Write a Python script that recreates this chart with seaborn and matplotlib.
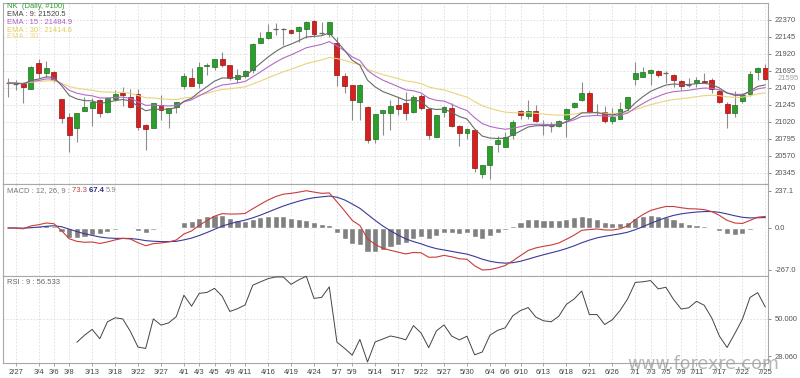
import numpy as np
import pandas as pd
import matplotlib
matplotlib.use("Agg")
import matplotlib.pyplot as plt
import seaborn as sns

# NK daily candles, 100 bars
opens = [21536, 21523, 21536, 21456, 21801, 21668, 21681, 21324, 21086, 20940,
         21165, 21205, 21311, 21152, 21324, 21403, 21351, 21390, 20980, 20940,
         21245, 21139, 21218, 21496, 21602, 21536, 21755, 21748, 21854, 21774,
         21589, 21629, 21708, 22065, 22132, 22251, 22251, 22238, 22224, 22251,
         22357, 22198, 22185, 22065, 21629, 21509, 21284, 21218, 20795, 21139,
         21139, 21245, 21271, 21152, 21364, 21192, 20821, 21152, 21205, 20967,
         20874, 20914, 20331, 20450, 20728, 20689, 20847, 21165, 21099, 21165,
         20980, 20967, 20967, 21059, 21218, 21311, 21403, 21152, 21152, 21033,
         21059, 21205, 21589, 21615, 21668, 21695, 21668, 21642, 21562, 21509,
         21536, 21569, 21576, 21430, 21258, 21139, 21298, 21390, 21681, 21734]
highs = [21602, 21576, 21545, 21760, 21854, 21827, 21690, 21330, 21139, 21145,
         21351, 21337, 21320, 21345, 21443, 21483, 21456, 21456, 20990, 21275,
         21377, 21210, 21290, 21668, 21734, 21814, 21801, 21860, 21946, 21780,
         21721, 21705, 22065, 22211, 22317, 22330, 22264, 22245, 22285, 22357,
         22365, 22344, 22350, 22145, 21668, 21515, 21523, 21231, 21130, 21180,
         21311, 21351, 21417, 21377, 21390, 21200, 21115, 21231, 21271, 20975,
         20935, 20920, 20455, 20705, 20834, 20887, 21046, 21178, 21311, 21245,
         21046, 21020, 21046, 21205, 21280, 21549, 21430, 21258, 21231, 21205,
         21284, 21355, 21814, 21748, 21721, 21705, 21695, 21655, 21575, 21602,
         21615, 21668, 21602, 21456, 21284, 21430, 21403, 21695, 21748, 21787]
lows = [21351, 21443, 21271, 21456, 21602, 21615, 21549, 21006, 20622, 20755,
        21160, 20967, 21086, 21139, 21298, 21231, 21210, 20914, 20649, 20935,
        21046, 20940, 21139, 21456, 21490, 21470, 21641, 21708, 21748, 21576,
        21536, 21600, 21668, 22060, 22125, 22171, 22039, 22185, 22079, 22132,
        22145, 22171, 22140, 21496, 21403, 21046, 21046, 20742, 20742, 20847,
        20914, 21112, 21046, 21139, 21178, 20795, 20815, 21086, 20960, 20702,
        20795, 20358, 20278, 20265, 20622, 20685, 20795, 21059, 21059, 21025,
        20847, 20887, 20955, 20821, 21205, 21300, 21140, 21112, 21006, 20993,
        21055, 21165, 21509, 21610, 21509, 21620, 21536, 21483, 21443, 21483,
        21483, 21536, 21403, 21271, 20940, 21086, 21271, 21364, 21576, 21576]
closes = [21536, 21523, 21483, 21748, 21668, 21734, 21576, 21072, 20847, 21139,
          21218, 21284, 21139, 21337, 21390, 21377, 21218, 20953, 20927, 21271,
          21178, 21205, 21284, 21629, 21496, 21748, 21768, 21854, 21774, 21602,
          21642, 21695, 22052, 22132, 22211, 22251, 22251, 22198, 22277, 22344,
          22185, 22198, 22344, 21642, 21496, 21311, 21509, 20781, 21125, 21178,
          21231, 21192, 21139, 21351, 21205, 20847, 21112, 21218, 20967, 20874,
          20927, 20410, 20450, 20702, 20781, 20821, 21020, 21112, 21165, 21033,
          20980, 20967, 21033, 21192, 21271, 21403, 21152, 21152, 21033, 21086,
          21192, 21351, 21668, 21681, 21708, 21642, 21668, 21576, 21496, 21509,
          21576, 21549, 21456, 21284, 21139, 21245, 21377, 21655, 21734, 21595]

holidays = ["2019-03-21", "2019-04-29", "2019-04-30", "2019-05-01", "2019-05-02",
            "2019-05-03", "2019-05-06", "2019-07-15"]
tick_labels = ["2/27", "3/4", "3/6", "3/8", "3/13", "3/18", "3/22", "3/27", "4/1",
               "4/3", "4/5", "4/9", "4/11", "4/16", "4/19", "4/24", "5/7", "5/9",
               "5/14", "5/17", "5/22", "5/27", "5/30", "6/4", "6/6", "6/10", "6/13",
               "6/18", "6/21", "6/26", "7/1", "7/3", "7/5", "7/9", "7/11", "7/17",
               "7/22", "7/25"]
price_ticks = [20345, 20570, 20795, 21020, 21245, 21470, 21695, 21920, 22145, 22370]
macd_ticks = [-267.0, 0.0, 237.1]
rsi_ticks = [28.06, 50.0]
last_price = 21595
ema_values = [21520.5, 21484.9, 21414.6]
macd_values = [73.3, 67.4, 5.9]
rsi_value = 56.533

days = pd.bdate_range("2019-02-26", "2019-07-25")
days = days[~days.isin(pd.to_datetime(holidays))]
day_labels = [f"{d.month}/{d.day}" for d in days]
tick_pos = [day_labels.index(t) for t in tick_labels]

df = pd.DataFrame({"i": np.arange(len(closes)), "open": opens, "high": highs,
                   "low": lows, "close": closes})
c = df["close"]
df["ema9"] = c.ewm(span=9, adjust=False).mean()
df["ema15"] = c.ewm(span=15, adjust=False).mean()
df["ema30"] = c.ewm(span=30, adjust=False).mean()
df["macd"] = c.ewm(span=12, adjust=False).mean() - c.ewm(span=26, adjust=False).mean()
df["signal"] = df["macd"].ewm(span=9, adjust=False).mean()
df["hist"] = df["macd"] - df["signal"]
delta = c.diff()
gain = delta.clip(lower=0).ewm(alpha=1 / 9, adjust=False, min_periods=9).mean()
loss = (-delta.clip(upper=0)).ewm(alpha=1 / 9, adjust=False, min_periods=9).mean()
df["rsi"] = 100 - 100 / (1 + gain / loss)

sns.set_style("white")
plt.rcParams["font.family"] = ["Liberation Sans", "DejaVu Sans"]

W, H = 800, 378
fig = plt.figure(figsize=(W / 100, H / 100), dpi=100)


def panel(top, bottom):
    return fig.add_axes([3 / W, 1 - bottom / H, 765 / W, (bottom - top) / H])


ax = panel(3, 184)
ax2 = panel(184, 276)
ax3 = panel(276, 363)

grid_kw = dict(color="#dcdcdc", lw=0.6, ls=(0, (2, 2)), zorder=0)

# --- price panel
for p in price_ticks:
    ax.axhline(p, **grid_kw)
up = df[df.close > df.open]
dn = df[df.close < df.open]
flat = df[df.close == df.open]
ax.vlines(df.i, df.low, df.high, color="#8c8c8c", lw=0.8, zorder=2)
ax.bar(up.i, up.close - up.open, bottom=up.open, width=0.64, color="#2b9e2b",
       edgecolor="#1f6f1f", lw=0.5, zorder=3)
ax.bar(dn.i, dn.open - dn.close, bottom=dn.close, width=0.64, color="#d61f1f",
       edgecolor="#8e1515", lw=0.5, zorder=3)
ax.hlines(flat.open, flat.i - 0.32, flat.i + 0.32, color="#666", lw=0.9, zorder=3)
sns.lineplot(data=df, x="i", y="ema30", ax=ax, color="#e9d47c", lw=0.8, zorder=4)
sns.lineplot(data=df, x="i", y="ema15", ax=ax, color="#b46ac8", lw=0.8, zorder=4)
sns.lineplot(data=df, x="i", y="ema9", ax=ax, color="#6a6a6a", lw=0.8, zorder=4)
ax.set_ylim(20199, 22595)
ax.set_yticks(price_ticks)
ax.set_yticklabels([str(p) for p in price_ticks])
ax.text(1.013, last_price, str(last_price), transform=ax.get_yaxis_transform(),
        fontsize=5.5, color="#a0a0a0", va="center", ha="left")
legend_rows = [("NK  (Daily, #100)", "#2e9e2e"),
               (f"EMA : 9: {ema_values[0]}", "#444444"),
               (f"EMA : 15 : {ema_values[1]}", "#b05cc4"),
               (f"EMA : 30 : {ema_values[2]}", "#e2cb5a"),
               ("EMA : 30", "#e8d884")]
for k, (txt, col) in enumerate(legend_rows):
    ax.text(4 / 765, 1 - (4 + 8 * k if k < 4 else 33) / 181, txt,
            transform=ax.transAxes, fontsize=5.5, color=col, va="center", ha="left")

# --- MACD panel
ax2.axhline(0, **grid_kw)
ax2.bar(df.i, df["hist"], width=0.8, color="#808080", zorder=2)
sns.lineplot(data=df, x="i", y="signal", ax=ax2, color="#3a3a9a", lw=0.8, zorder=3)
sns.lineplot(data=df, x="i", y="macd", ax=ax2, color="#c83c3c", lw=0.8, zorder=3)
ax2.set_ylim(-307, 281)
ax2.set_yticks(macd_ticks)
ax2.set_yticklabels([f"{v:.1f}" for v in macd_ticks])
t = ax2.text(4 / 765, 1 - 7 / 92, "MACD : 12, 26, 9 : ", transform=ax2.transAxes,
             fontsize=5.5, color="#777", va="center", ha="left")
for txt, col, wt in [(f"{macd_values[0]} ", "#b04040", "normal"),
                     (f"{macd_values[1]} ", "#2a2a7a", "bold"),
                     (f"{macd_values[2]}", "#888", "normal")]:
    t = ax2.annotate(txt, xy=(1, 0.5), xycoords=t, fontsize=5.5, color=col,
                     weight=wt, va="center", ha="left")

# --- RSI panel
ax3.axhline(50, **grid_kw)
sns.lineplot(data=df, x="i", y="rsi", ax=ax3, color="#444", lw=0.7, zorder=3)
ax3.set_ylim(min(27.5, df["rsi"].min() - 0.6), 75.2)
ax3.set_yticks(rsi_ticks)
ax3.set_yticklabels([f"{v:.3f}" for v in rsi_ticks])
ax3.text(4 / 765, 1 - 6 / 87, f"RSI : 9 : {rsi_value}", transform=ax3.transAxes,
         fontsize=5.5, color="#666", va="center", ha="left")

for a in (ax, ax2, ax3):
    a.set_xlim(-0.65, 99.35)
    a.yaxis.tick_right()
    for s in a.spines.values():
        s.set_color("#a8a8a8")
        s.set_linewidth(0.8)
    a.tick_params(axis="y", right=True, length=2.5, width=0.6, color="#777",
                  labelsize=5.5, labelcolor="#555", pad=2.5)
    a.set_xticks(tick_pos)
    for p in tick_pos:
        a.axvline(p, **grid_kw)
    a.set_xlabel("")
    a.set_ylabel("")
    if a is not ax3:
        a.tick_params(axis="x", bottom=False, labelbottom=False)

ax3.set_xticklabels(tick_labels)
ax3.tick_params(axis="x", bottom=True, length=2, width=0.6, color="#999",
                labelsize=5.5, labelcolor="#444", pad=2)

fig.text(627 / W, 1 - 369 / H, "www.forexre.com", fontsize=12.5, color="#9c9c9c",
         alpha=0.75, family="DejaVu Sans", va="baseline", ha="left")

fig.savefig("out.png", dpi=100)
